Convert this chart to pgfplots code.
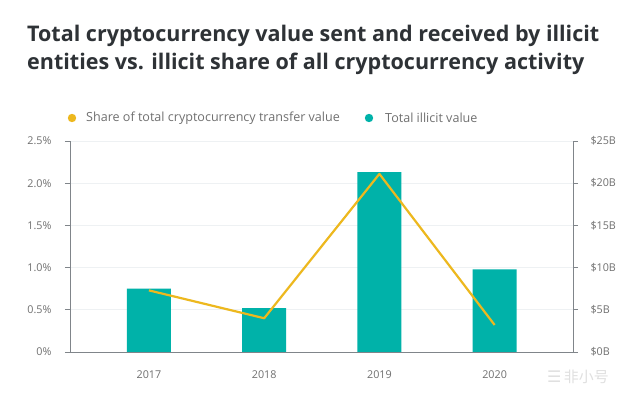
\documentclass[border=0pt]{standalone}
\usepackage{pgfplots}
\pgfplotsset{compat=1.18}
\usepackage{fontspec}
\setmainfont{Open Sans}
\newfontfamily\cjk{Noto Sans CJK SC}
\newfontfamily\dejavu{DejaVu Sans}
\definecolor{myteal}{HTML}{00B2A9}
\definecolor{myyellow}{HTML}{EDB81E}
\definecolor{txt}{HTML}{707070}
\definecolor{ttl}{HTML}{2E3236}
\definecolor{axc}{HTML}{80858A}
\definecolor{grd}{HTML}{EEF1F3}
\begin{document}
\begin{tikzpicture}[x=1bp,y=1bp]
\path[use as bounding box, fill=white] (0bp,0bp) rectangle (639bp,395bp);
\node[anchor=base west, inner sep=0, text=ttl, font=\bfseries\fontsize{21.6}{24}\selectfont] at (27bp,353.3bp) {Total cryptocurrency value sent and received by illicit};
\node[anchor=base west, inner sep=0, text=ttl, font=\bfseries\fontsize{21.6}{24}\selectfont] at (27bp,325bp) {entities vs. illicit share of all cryptocurrency activity};
% legend
\fill[myyellow] (72bp,277bp) circle (4.2bp);
\node[anchor=west, inner sep=0, text=txt, font=\fontsize{12.6}{14}\selectfont] at (86bp,277bp) {Share of total cryptocurrency transfer value};
\fill[myteal] (369bp,277bp) circle (4.2bp);
\node[anchor=west, inner sep=0, text=txt, font=\fontsize{12.6}{14}\selectfont] at (385bp,277bp) {Total illicit value};
% watermark
\node[anchor=west, inner sep=0, text=black!12, font=\cjk\fontsize{15}{16}\selectfont] at (547bp,18bp) {{\dejavu\fontsize{16}{16}\selectfont ☰}\,非小号};
\pgfplotsset{
  base/.style={
    scale only axis, width=503bp, height=211bp,
    at={(70bp,43bp)}, anchor=south west,
    xmin=-0.685, xmax=3.68,
    tick label style={text=txt, font=\fontsize{10.8}{12}\selectfont},
    /pgf/number format/assume math mode=true,
    major tick length=5bp,
    tick style={draw=axc, line width=0.8pt},
  }
}
\begin{axis}[base,
  ymin=0, ymax=25, axis y line*=right, axis x line*=bottom,
  axis line style={draw=axc, line width=0.9pt, -},
  ytick={0,5,10,15,20,25},
  yticklabels={\$0B,\$5B,\$10B,\$15B,\$20B,\$25B},
  yticklabel style={anchor=west, xshift=9bp},
  xtick={0,1,2,3}, xticklabels={2017,2018,2019,2020},
  xtick style={draw=none},
  xticklabel style={yshift=-10bp},
  ytick style={draw=axc},
  tick align=outside,
  ymajorgrids, grid style={draw=grd, line width=0.8pt},
]
\addplot[ybar, bar width=44bp, fill=myteal, draw=none] coordinates {(0,7.5) (1,5.2) (2,21.3) (3,9.8)};
\end{axis}
\begin{axis}[base,
  ymin=0, ymax=2.5, axis y line*=left, axis x line=none,
  axis line style={draw=axc, line width=0.9pt, -},
  ytick={0,0.5,1,1.5,2,2.5},
  yticklabels={0\%,0.5\%,1.0\%,1.5\%,2.0\%,2.5\%},
  yticklabel style={anchor=east, xshift=-10bp},
  tick align=outside,
]
\addplot[color=myyellow, line width=2.2pt, mark=none, line join=round] coordinates {(0,0.73) (1,0.40) (2,2.11) (3,0.32)};
\end{axis}
\end{tikzpicture}
\end{document}
